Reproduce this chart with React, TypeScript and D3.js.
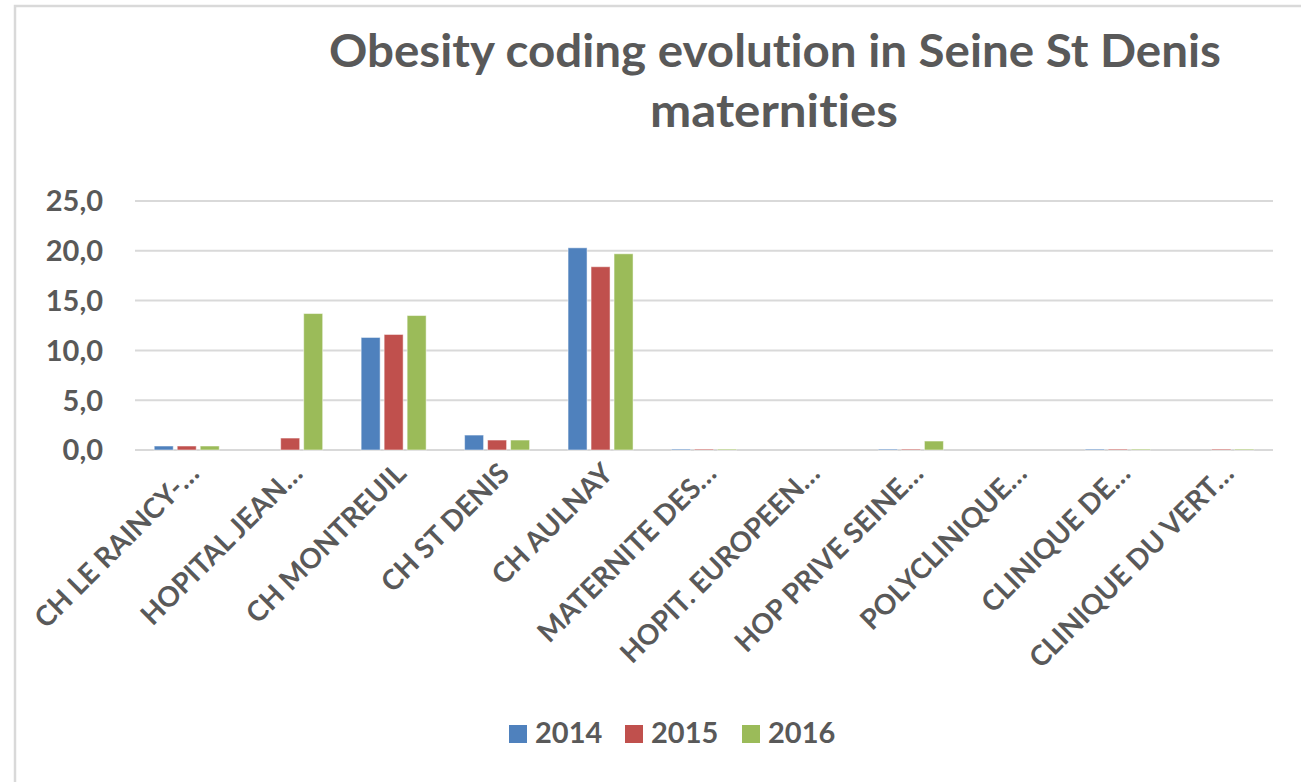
import * as d3 from 'd3';
import React from 'react';

// chart data
const categories = [
  'CH LE RAINCY-…',
  'HOPITAL JEAN…',
  'CH MONTREUIL',
  'CH ST DENIS',
  'CH AULNAY',
  'MATERNITE DES…',
  'HOPIT. EUROPEEN…',
  'HOP PRIVE SEINE…',
  'POLYCLINIQUE…',
  'CLINIQUE DE…',
  'CLINIQUE DU VERT…',
];
const years = ['2014', '2015', '2016'];
const v2014 = [0.4, 0, 11.3, 1.5, 20.3, 0.1, 0, 0.1, 0, 0.1, 0];
const v2015 = [0.4, 1.2, 11.6, 1.0, 18.4, 0.1, 0, 0.1, 0, 0.1, 0.1];
const v2016 = [0.4, 13.7, 13.5, 1.0, 19.7, 0.1, 0, 0.9, 0, 0.1, 0.1];
const yTicks = [0, 5, 10, 15, 20, 25];
const colors = ['#4F81BD', '#C0504D', '#9BBB59'];

const W = 1301;
const H = 782;
const FONT = 'Lato, "Open Sans", sans-serif';
const TXT = '#595959';
const noLig = { fontVariantLigatures: 'none' as const };

const App = () => {
  const series = [v2014, v2015, v2016];

  const x0 = d3.scaleBand().domain(categories).range([135, 1273]).padding(0);
  const x1 = d3.scaleBand().domain(years).range([-34.5, 34.5]).padding(0);
  const y = d3.scaleLinear().domain([0, 25]).range([450, 201]);
  const color = d3.scaleOrdinal<string, string>().domain(years).range(colors);
  const barW = 19;

  return (
    <svg width={W} height={H} style={{ position: 'absolute', left: 0, top: 0, background: '#fff' }}>
      {/* chart frame */}
      <rect x={15} y={6} width={1400} height={900} fill="#fff" stroke="#d9d9d9" strokeWidth={2.5} />

      {/* title */}
      <text x={775} y={67} textAnchor="middle" fill={TXT} fontFamily={FONT} fontWeight="bold" fontSize={46}
        textLength={892} lengthAdjust="spacingAndGlyphs" style={noLig}>
        Obesity coding evolution in Seine St Denis
      </text>
      <text x={774} y={127} textAnchor="middle" fill={TXT} fontFamily={FONT} fontWeight="bold" fontSize={46}
        textLength={248} lengthAdjust="spacingAndGlyphs" style={noLig}>
        maternities
      </text>

      {/* gridlines + y labels */}
      {yTicks.map((t) => (
        <g key={t}>
          <line x1={135} x2={1273} y1={y(t)} y2={y(t)} stroke="#d9d9d9" strokeWidth={2} />
          <text x={103} y={y(t)} dy="0.36em" textAnchor="end" fill={TXT} fontFamily={FONT}
            fontWeight="bold" fontSize={29}>
            {d3.format('.1f')(t).replace('.', ',')}
          </text>
        </g>
      ))}

      {/* bars */}
      {categories.map((c, i) => (
        <g key={c} transform={`translate(${x0(c)! + x0.bandwidth() / 2},0)`}>
          {years.map((yr, s) => {
            const v = series[s][i];
            if (!v) return null;
            return (
              <rect key={yr} x={x1(yr)! + 2} y={y(v)} width={barW} height={y(0) - y(v)}
                fill={color(yr)} stroke="#fff" strokeOpacity={0.5} strokeWidth={1} />
            );
          })}
        </g>
      ))}

      {/* x labels */}
      {categories.map((c) => {
        const cx = x0(c)! + x0.bandwidth() / 2;
        return (
          <text key={c} transform={`translate(${cx + 7},${468}) rotate(-45)`} textAnchor="end" dy="0.36em"
            fill={TXT} fontFamily={FONT} fontWeight="bold" fontSize={28}>
            {c}
          </text>
        );
      })}

      {/* legend */}
      {years.map((yr, i) => {
        const lx = [509, 625, 742][i];
        return (
          <g key={yr}>
            <rect x={lx} y={725} width={18} height={18} fill={color(yr)} />
            <text x={lx + 26} y={743} fill={TXT} fontFamily={FONT} fontWeight="bold" fontSize={29}>
              {yr}
            </text>
          </g>
        );
      })}
    </svg>
  );
};

export default App;
